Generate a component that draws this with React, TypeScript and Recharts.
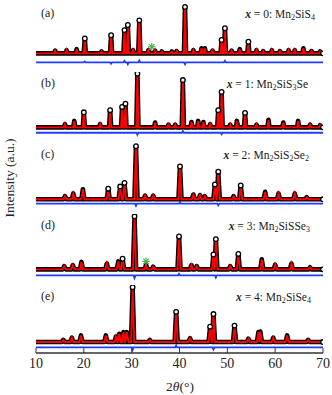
import React from 'react';
import { ComposedChart, Line, XAxis, YAxis, Scatter } from 'recharts';

const xTicks = [10, 20, 30, 40, 50, 60, 70];

// (a) x = 0: Mn2SiS4
const aPos = [14.0, 16.4, 18.5, 20.2, 23.7, 25.7, 28.5, 29.2, 30.3, 31.6, 33.5, 34.9, 36.3, 38.4, 39.4, 41.15, 42.9, 44.6, 45.3, 46.9, 48.8, 49.5, 50.9, 52.6, 54.4, 56.1, 57.5, 59.3, 61.0, 62.8, 64.1, 65.9, 67.6, 69.4];
const aInt = [6, 7, 9, 32, 4, 39, 50, 61, 7, 71, 7, 6, 4, 4, 5, 100, 7, 11, 11, 6, 29, 54, 6, 9, 25, 7, 5, 7, 5, 7, 7, 11, 5, 4];
const aDiffPos = [20.2, 25.7, 28.5, 29.2, 31.6, 41.15, 49.5];
const aDiffVal = [2, -3, 3, -4, 4, -4, 3];
const aStar = [{ x: 34.2, y: 14 }];

// (b) x = 1: Mn2SiS3Se
const bPos = [16.06, 18.0, 20.0, 23.4, 25.5, 28.0, 28.7, 31.2, 34.9, 37.7, 39.1, 40.7, 42.5, 43.9, 45.0, 46.4, 48.1, 48.8, 50.6, 52.0, 53.7, 56.1, 58.6, 61.7, 64.8, 67.3, 69.4];
const bInt = [6, 12, 28, 6, 32, 38, 44, 100, 9, 5, 5, 88, 10, 12, 10, 6, 32, 66, 5, 12, 27, 5, 14, 9, 12, 5, 4];
const bDiffPos = [31.2, 40.7, 48.8];
const bDiffVal = [-4, 3, -3];

// (c) x = 2: Mn2SiS2Se2
const cPos = [16.06, 17.8, 19.8, 25.1, 27.6, 28.5, 30.9, 32.8, 34.5, 40.1, 42.9, 44.3, 45.3, 47.4, 48.1, 51.3, 52.8, 57.9, 60.7, 64.1, 66.6];
const cInt = [6, 11, 19, 20, 24, 31, 100, 7, 7, 62, 9, 8, 6, 28, 52, 6, 26, 14, 11, 11, 4];
const cDiffPos = [30.9, 40.1, 48.1];
const cDiffVal = [-4, 3, -3];

// (d) x = 3: Mn2SiSSe3
const dPos = [15.9, 17.7, 19.5, 24.8, 27.2, 28.1, 30.6, 33.0, 34.5, 39.9, 42.5, 43.6, 47.1, 47.6, 50.6, 52.3, 57.2, 60.0, 63.4, 67.3];
const dInt = [6, 8, 14, 11, 15, 20, 100, 8, 5, 62, 8, 6, 28, 57, 6, 29, 19, 9, 11, 4];
const dDiffPos = [30.6, 39.9, 47.6];
const dDiffVal = [-5, 3, -4];
const dStar = [{ x: 33.0, y: 15 }];

// (e) x = 4: Mn2SiSe4
const ePos = [15.7, 17.5, 19.4, 24.6, 26.7, 27.4, 28.3, 29.0, 30.2, 33.8, 39.3, 42.2, 46.4, 47.1, 51.5, 54.4, 56.5, 56.9, 59.6, 62.5, 66.9];
const eInt = [4, 8, 12, 12, 10, 15, 18, 18, 100, 4, 55, 7, 28, 51, 30, 6, 18, 19, 8, 12, 4];
const eDiffPos = [30.2, 39.3, 47.1];
const eDiffVal = [-5, 3, -4];

type Pt = { x: number; y: number; top?: boolean };

function profile(pos: number[], int: number[], w: number): Pt[] {
  const pts: Pt[] = [{ x: 10, y: 0 }];
  for (let i = 0; i < pos.length; i++) {
    const lo = i > 0 ? Math.max(pos[i] - w, (pos[i - 1] + pos[i]) / 2) : pos[i] - w;
    const hi = i < pos.length - 1 ? Math.min(pos[i] + w, (pos[i] + pos[i + 1]) / 2) : pos[i] + w;
    if (lo > pts[pts.length - 1].x) pts.push({ x: lo, y: 0 });
    pts.push({ x: pos[i], y: int[i], top: int[i] >= 20 });
    pts.push({ x: hi, y: 0 });
  }
  pts.push({ x: 70, y: 0, top: true });
  return pts;
}

function diffLine(pos: number[], val: number[], off: number): Pt[] {
  const pts: Pt[] = [{ x: 10, y: off }];
  pos.forEach((p, i) => {
    pts.push({ x: p - 0.2, y: off });
    pts.push({ x: p, y: off + val[i] });
    pts.push({ x: p + 0.2, y: off });
  });
  pts.push({ x: 70, y: off });
  return pts;
}

const TopDot = (props: any) => {
  const { cx, cy, payload, index } = props;
  if (!payload || !payload.top) return <g key={`d${index}`} />;
  return <circle key={`d${index}`} cx={cx} cy={cy} r={2.3} fill="#fff" stroke="#000" strokeWidth={1.3} />;
};

const StarShape = (props: any) => {
  const { cx, cy } = props;
  const r = 3.8;
  const lines = [0, 45, 90, 135].map((a) => {
    const rad = (a * Math.PI) / 180;
    return (
      <line key={a} x1={cx - r * Math.cos(rad)} y1={cy - r * Math.sin(rad)} x2={cx + r * Math.cos(rad)} y2={cy + r * Math.sin(rad)} stroke="#3cb043" strokeWidth={1.1} />
    );
  });
  return <g>{lines}</g>;
};

const SERIF = '"Liberation Serif", "Times New Roman", serif';
const AX = '#333';

type PanelDef = {
  letter: string;
  top: number;
  pos: number[];
  int: number[];
  w: number;
  domain: [number, number];
  yTicks: number[];
  diffPos: number[];
  diffVal: number[];
  diffOff: number;
  star?: { x: number; y: number }[];
  label: React.ReactNode;
  labelRight: number;
  bottom?: boolean;
};

const sub = (t: string) => <sub style={{ fontSize: '0.7em', verticalAlign: '-0.3em', lineHeight: 0 }}>{t}</sub>;

const panels: PanelDef[] = [
  { letter: '(a)', top: 2, pos: aPos, int: aInt, w: 0.22, domain: [-35.8, 110.5], yTicks: [0, 45], diffPos: aDiffPos, diffVal: aDiffVal, diffOff: -19.3, star: aStar,
    label: <>Mn{sub('2')}SiS{sub('4')}</>, labelRight: 315 },
  { letter: '(b)', top: 72, pos: bPos, int: bInt, w: 0.22, domain: [-23.5, 103], yTicks: [0, 41, 80], diffPos: bDiffPos, diffVal: bDiffVal, diffOff: -10,
    label: <>Mn{sub('2')}SiS{sub('3')}Se</>, labelRight: 308 },
  { letter: '(c)', top: 143, pos: cPos, int: cInt, w: 0.32, domain: [-22, 106], yTicks: [0, 27, 53, 81], diffPos: cDiffPos, diffVal: cDiffVal, diffOff: -8.3,
    label: <>Mn{sub('2')}SiS{sub('2')}Se{sub('2')}</>, labelRight: 309 },
  { letter: '(d)', top: 214, pos: dPos, int: dInt, w: 0.32, domain: [-23.8, 104.3], yTicks: [25, 54.5, 84], diffPos: dDiffPos, diffVal: dDiffVal, diffOff: -11.3, star: dStar,
    label: <>Mn{sub('2')}SiSSe{sub('3')}</>, labelRight: 310 },
  { letter: '(e)', top: 285, pos: ePos, int: eInt, w: 0.32, domain: [-20, 104], yTicks: [22.5, 47, 70, 94], diffPos: eDiffPos, diffVal: eDiffVal, diffOff: -9.6,
    label: <>Mn{sub('2')}SiSe{sub('4')}</>, labelRight: 311, bottom: true },
];

const xNames = ['0', '1', '2', '3', '4'];

function Panel({ p, idx }: { p: PanelDef; idx: number }) {
  const obs = profile(p.pos, p.int, p.w);
  const calc = profile(p.pos, p.int, p.w).map((d) => ({ x: d.x, y: d.y }));
  const diff = diffLine(p.diffPos, p.diffVal, p.diffOff);
  const axH = p.bottom ? 24 : 0;
  return (
    <div style={{ position: 'absolute', left: 0, top: p.top - 1, width: 332, height: 70 + axH }}>
      <ComposedChart width={332} height={70 + axH} margin={{ top: 1, right: 9, bottom: 1, left: 36 }}>
        <XAxis xAxisId="b" dataKey="x" type="number" domain={[10, 70]} ticks={xTicks} interval={0} allowDataOverflow
          height={axH} tickSize={-5} tickMargin={10}
          axisLine={{ stroke: AX, strokeWidth: 1.3 }} tickLine={{ stroke: AX, strokeWidth: 1 }}
          tick={p.bottom ? { fill: '#222', fontSize: 14, fontFamily: SERIF } : false} />
        <XAxis xAxisId="t" orientation="top" dataKey="x" type="number" domain={[10, 70]} ticks={xTicks} allowDataOverflow
          height={0} tick={false} tickLine={false} axisLine={{ stroke: AX, strokeWidth: 1.3 }} />
        <YAxis yAxisId="l" type="number" domain={p.domain} ticks={p.yTicks} interval={0} allowDataOverflow width={0}
          tickSize={-4} tick={false} axisLine={{ stroke: AX, strokeWidth: 1.3 }} tickLine={{ stroke: AX, strokeWidth: 1 }} />
        <YAxis yAxisId="r" orientation="right" type="number" domain={p.domain} ticks={p.yTicks} interval={0} allowDataOverflow width={0}
          tickSize={-4} tick={false} axisLine={{ stroke: AX, strokeWidth: 1.3 }} tickLine={{ stroke: AX, strokeWidth: 1 }} />
        <Line xAxisId="b" yAxisId="l" data={diff} dataKey="y" type="linear" stroke="#1f3dff" strokeWidth={1.8} dot={false} isAnimationActive={false} />
        <Line xAxisId="b" yAxisId="l" data={obs} dataKey="y" type="linear" stroke="#000" strokeWidth={4.6} strokeLinejoin="round" dot={TopDot} activeDot={false} isAnimationActive={false} />
        <Line xAxisId="b" yAxisId="l" data={calc} dataKey="y" type="linear" stroke="#ff0000" strokeWidth={1.9} dot={false} activeDot={false} isAnimationActive={false} />
        {p.star ? (
          <Scatter xAxisId="b" yAxisId="l" data={p.star} dataKey="y" shape={StarShape} isAnimationActive={false} />
        ) : null}
      </ComposedChart>
      <div style={{ position: 'absolute', left: 41, top: 6, fontFamily: SERIF, fontSize: 12, lineHeight: '12px', color: '#222' }}>{p.letter}</div>
      <div style={{ position: 'absolute', right: 332 - p.labelRight, top: 7, fontFamily: SERIF, fontSize: 11.5, lineHeight: '12px', color: '#222', whiteSpace: 'nowrap' }}>
        <b><i>x</i></b> = {xNames[idx]}: {p.label}
      </div>
    </div>
  );
}

export default function App() {
  return (
    <div style={{ position: 'absolute', left: 0, top: 0, width: 332, height: 395, background: '#fff', overflow: 'hidden' }}>
      {panels.map((p, i) => (
        <Panel key={p.letter} p={p} idx={i} />
      ))}
      <div style={{ position: 'absolute', left: 10, top: 178, transform: 'translate(-50%, -50%) rotate(-90deg)', fontFamily: SERIF, fontSize: 13.5, whiteSpace: 'nowrap', color: '#222' }}>
        Intensity (a.u.)
      </div>
      <div style={{ position: 'absolute', left: 180, top: 387, transform: 'translate(-50%, -50%)', fontFamily: SERIF, fontSize: 13.5, whiteSpace: 'nowrap', color: '#222' }}>
        2<i>θ</i>(°)
      </div>
    </div>
  );
}
